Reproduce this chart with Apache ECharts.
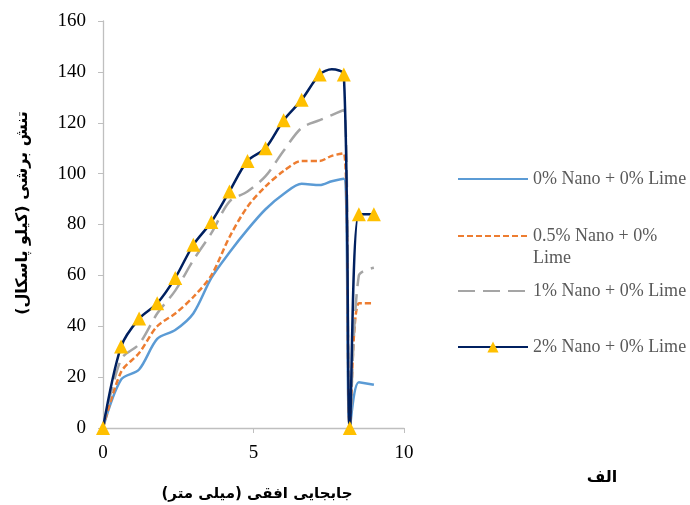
<!DOCTYPE html>
<html>
<head>
<meta charset="utf-8">
<script src="https://cdn.jsdelivr.net/npm/echarts@6/dist/echarts.min.js"></script>
<style>html,body{margin:0;padding:0;background:#fff;}#c{width:690px;height:505px;}</style>
</head>
<body>
<div id="c"></div>
<script>
// Data
var xs   = [0, 0.6, 1.2, 1.8, 2.4, 3.0, 3.6, 4.2, 4.8, 5.4, 6.0, 6.6, 7.2, 7.6, 8.0, 8.2, 8.5, 9.0];
var s0   = [0, 19, 23, 35, 38.5, 45, 59, 69, 78, 86, 92, 96, 95.5, 97, 98, 0, 18, 17];
var s05  = [0, 22, 29.5, 40, 45, 51.5, 60, 75, 87, 95, 101, 105, 105, 107, 108, 0, 49, 49];
var s1   = [0, 27, 33, 45, 54, 66, 76.6, 89, 93, 99, 109, 118, 121, 123, 125, 0, 60, 63];
var s2   = [0, 32, 43, 49, 59, 72, 81, 93, 105, 110, 121, 129, 139, 141, 139, 0, 84, 84];
var s2Markers = [1, 1, 1, 1, 1, 1, 1, 1, 1, 1, 1, 1, 1, 0, 1, 1, 1, 1]; // which points carry a triangle
var names = ['0% Nano + 0% Lime', '0.5% Nano + 0% Lime', '1% Nano + 0% Lime', '2% Nano + 0% Lime'];
var xTicks = [0, 5, 10];
var yTicks = [0, 160, 20];
var xTitle = 'جابجایی افقی (میلی متر)';
var yTitle = 'تنش برشی (کیلو پاسکال)';
var panelLabel = 'الف';

function pairs(ys){ return xs.map(function(x,i){ return [x, ys[i]]; }); }
function markedPairs(ys, marks){
  return xs.map(function(x,i){
    var d = {value: [x, ys[i]]};
    if (!marks[i]) d.symbol = 'none';
    return d;
  });
}

var font = '"Liberation Serif", "Times New Roman", "DejaVu Serif", serif';

var legendBase = {
  orient: 'vertical', left: 452, itemWidth: 70, itemHeight: 14, itemGap: 0,
  textStyle: {fontFamily: font, fontSize: 18, color: '#595959', lineHeight: 22},
  selectedMode: false
};
function leg(name, top, extra, fmt){
  var o = Object.assign({}, legendBase, {top: top, data: [Object.assign({name: name}, extra||{})]});
  if (fmt) o.formatter = fmt;
  return o;
}
var hideSym = {itemStyle: {opacity: 0}};

var chart = echarts.init(document.getElementById('c'), null, {renderer: 'canvas'});
chart.setOption({
  animation: false,
  backgroundColor: '#fff',
  grid: {left: 103, right: 286, top: 21, bottom: 77, containLabel: false},
  legend: [
    leg(names[0], 163, hideSym),
    leg(names[1], 198, hideSym, ' \n0.5% Nano + 0%\nLime'),
    leg(names[2], 275, hideSym),
    leg(names[3], 331)
  ],
  xAxis: {
    type: 'value', min: xTicks[0], max: xTicks[2], interval: xTicks[1] - xTicks[0],
    axisLine: {lineStyle: {color: '#BFBFBF', width: 1.3}},
    axisTick: {show: true, length: 5, lineStyle: {color: '#BFBFBF'}},
    splitLine: {show: false},
    axisLabel: {fontFamily: font, fontSize: 19, color: '#000', margin: 16}
  },
  yAxis: {
    type: 'value', min: yTicks[0], max: yTicks[1], interval: yTicks[2],
    axisLine: {show: true, lineStyle: {color: '#BFBFBF', width: 1.3}},
    axisTick: {show: true, length: 5, lineStyle: {color: '#BFBFBF'}},
    splitLine: {show: false},
    axisLabel: {fontFamily: font, fontSize: 19, color: '#000', margin: 17}
  },
  graphic: [
    {type: 'text', x: 257, y: 494,
     style: {text: xTitle, font: 'bold 15px "DejaVu Sans", sans-serif', fill: '#000', align: 'center', verticalAlign: 'middle'}},
    {type: 'text', x: 23, y: 213, rotation: Math.PI / 2,
     style: {text: yTitle, font: 'bold 16px "DejaVu Sans", sans-serif', fill: '#000', align: 'center', verticalAlign: 'middle'}},
    {type: 'text', x: 602, y: 478,
     style: {text: panelLabel, font: 'bold 16px "DejaVu Sans", sans-serif', fill: '#000', align: 'center', verticalAlign: 'middle'}}
  ],
  series: [
    {name: names[0], type: 'line', data: pairs(s0), smooth: 0.3, symbol: 'none',
     lineStyle: {color: '#5B9BD5', width: 2.5}, itemStyle: {color: '#5B9BD5'}},
    {name: names[1], type: 'line', data: pairs(s05), smooth: 0.3, symbol: 'none',
     lineStyle: {color: '#ED7D31', width: 2.5, type: [6, 3]}, itemStyle: {color: '#ED7D31'}},
    {name: names[2], type: 'line', data: pairs(s1), smooth: 0.3, symbol: 'none',
     lineStyle: {color: '#A5A5A5', width: 2.5, type: [17, 8]}, itemStyle: {color: '#A5A5A5'}},
    {name: names[3], type: 'line', data: markedPairs(s2, s2Markers), smooth: 0.3, symbol: 'triangle', symbolSize: 14,
     lineStyle: {color: '#002060', width: 2.5}, itemStyle: {color: '#FFC000', borderWidth: 0}}
  ]
});
</script>
</body>
</html>
